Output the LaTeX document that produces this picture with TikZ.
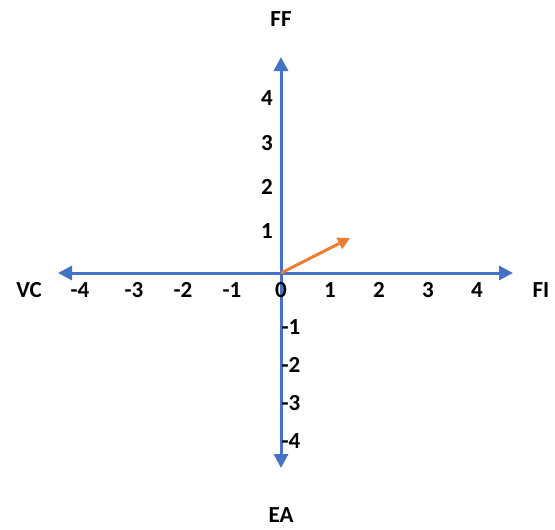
\documentclass[tikz,border=0pt]{standalone}
\usepackage{fontspec}
\setmainfont{Carlito}
\usetikzlibrary{arrows.meta}
\definecolor{axblue}{HTML}{4472C4}
\definecolor{vecorange}{HTML}{ED7D31}
\begin{document}
\begin{tikzpicture}[x=1pt,y=-1pt,
  axis/.style={draw=axblue,line width=3pt,-{Triangle[length=14pt,width=14pt]}},
  vec/.style={draw=vecorange,line width=3pt,-{Triangle[length=12pt,width=12pt]}},
  lbl/.style={font=\fontsize{23}{26}\selectfont\bfseries,text=black,inner sep=0pt}]
\useasboundingbox (0,0) rectangle (555,530);
\coordinate (O) at (281,273);
\coordinate (L) at (58,273);
\coordinate (R) at (513,273);
\coordinate (T) at (281,57);
\coordinate (B) at (281,468);
\coordinate (V) at (350,238);
\draw[axis] (O) -- (L);
\draw[axis] (O) -- (R);
\draw[axis] (O) -- (T);
\draw[axis] (O) -- (B);
\draw[vec] (O) -- (V);
\node[lbl] (vc) at (29,290) {VC};
\node[lbl] (fi) at (541,290) {FI};
\node[lbl] (ff) at (281,19) {FF};
\node[lbl] (ea) at (281,515) {EA};
\foreach \t/\x in {-4/80,-3/134,-2/183,-1/232,0/281,1/330,2/379,3/428,4/477}
  \node[lbl] (h\x) at (\x,290) {\t};
\foreach \t/\y in {4/98,3/143,2/187,1/231}
  \node[lbl] (p\y) at (267,\y) {\t};
\foreach \t/\y in {-1/327,-2/365,-3/403,-4/441}
  \node[lbl] (n\y) at (291,\y) {\t};
\end{tikzpicture}
\end{document}
